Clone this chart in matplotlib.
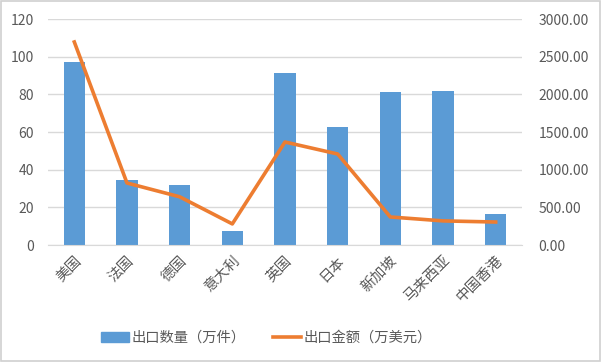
import matplotlib.pyplot as plt
from matplotlib.patches import Rectangle
from matplotlib.lines import Line2D
from matplotlib.patches import Patch

plt.rcParams['font.family'] = ['Noto Sans CJK SC', 'DejaVu Sans']

countries = ['美国', '法国', '德国', '意大利', '英国', '日本', '新加坡', '马来西亚', '中国香港']
quantity = [97.2, 34.6, 32.0, 7.4, 91.3, 62.9, 81.3, 81.8, 16.4]
amount = [2695, 823, 640, 280, 1367, 1208, 372, 320, 305]

grid_c = '#D9D9D9'
text_c = '#595959'

fig = plt.figure(figsize=(6.02, 3.62), dpi=100)
fig.patches.append(Rectangle((0.002, 0.003), 0.995, 0.993, transform=fig.transFigure,
                             fill=False, edgecolor='#D0D0D0', linewidth=1.2))
ax = fig.add_axes([0.0797, 0.3232, 0.7874, 0.6243])
x = range(len(countries))
ax.bar(x, quantity, width=0.4, color='#5B9BD5', zorder=2)
ax.set_ylim(0, 120)
ax.set_yticks(range(0, 121, 20))
ax.set_xlim(-0.5, len(countries) - 0.5)
ax.yaxis.grid(True, color=grid_c, linewidth=1, zorder=0)
ax.set_axisbelow(True)
for s in ['top', 'right', 'left']:
    ax.spines[s].set_visible(False)
ax.spines['bottom'].set_color(grid_c)
ax.tick_params(axis='both', length=0, colors=text_c, labelsize=10)
ax.tick_params(axis='y', pad=10)
ax.set_xticks(list(x))
ax.set_xticklabels(countries, rotation=45, ha='right', va='top', rotation_mode='anchor',
                   fontsize=10.5)
ax.tick_params(axis='x', pad=6)

ax2 = ax.twinx()
ax2.plot(x, amount, color='#ED7D31', linewidth=2.6, zorder=3)
ax2.set_ylim(0, 3000)
ax2.set_yticks(range(0, 3001, 500))
ax2.set_yticklabels([f'{v:.2f}' for v in range(0, 3001, 500)])
for s in ax2.spines.values():
    s.set_visible(False)
ax2.tick_params(axis='y', length=0, colors=text_c, labelsize=10, pad=12)

handles = [Patch(color='#5B9BD5'), Line2D([], [], color='#ED7D31', linewidth=2.6)]
fig.legend(handles, ['出口数量（万件）', '出口金额（万美元）'], loc='center',
           bbox_to_anchor=(0.442, 0.066), ncol=2, frameon=False, fontsize=10.3,
           labelcolor=text_c, handlelength=2.0, handletextpad=0.15, columnspacing=1.9)

fig.savefig('out.png', dpi=100)
